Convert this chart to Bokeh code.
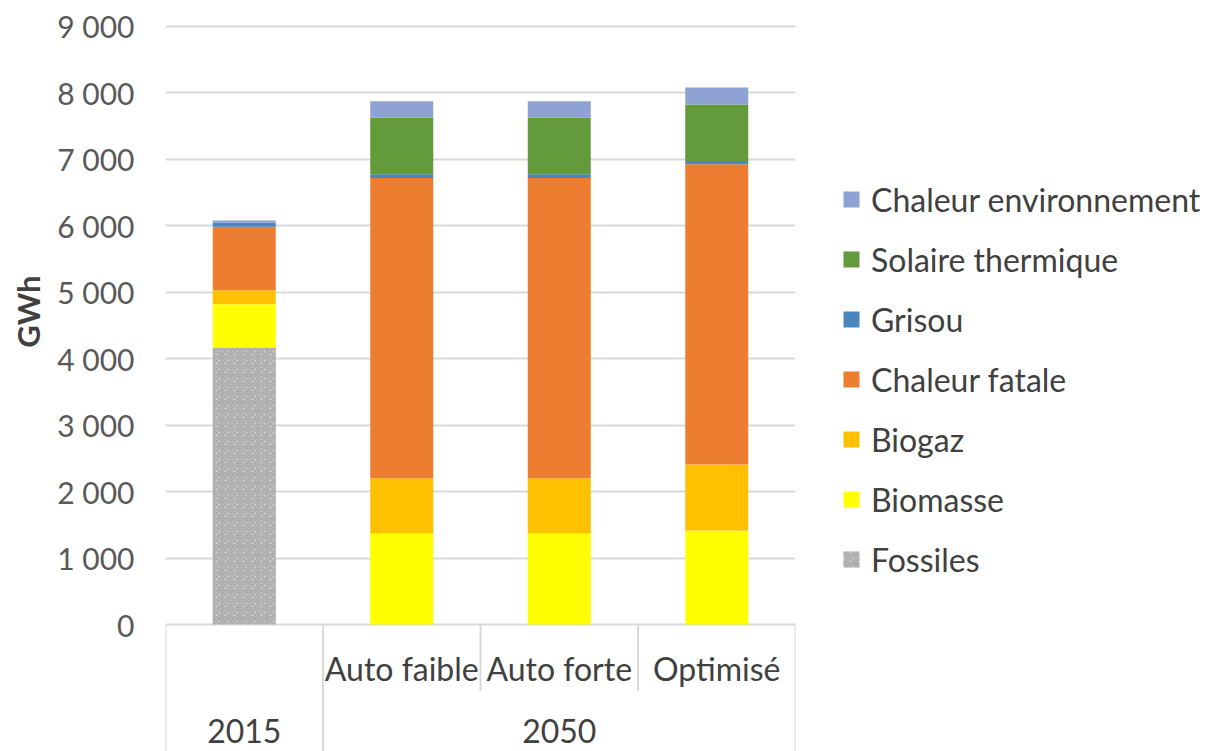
from bokeh.plotting import figure
from bokeh.models import (Range1d, FixedTicker, Legend, LegendItem, Title,
                          ColumnDataSource)
from bokeh.core.properties import value
from bokeh.embed import file_html
from bokeh.resources import INLINE

# ---------------- data ----------------
groups = ["2015", "2050"]
scenarios = ["", "Auto faible", "Auto forte", "Optimisé"]
scenario_group = ["2015", "2050", "2050", "2050"]
series = ["Fossiles", "Biomasse", "Biogaz", "Chaleur fatale", "Grisou",
          "Solaire thermique", "Chaleur environnement"]
fossiles = [4160, 0, 0, 0]
biomasse = [660, 1370, 1370, 1415]
biogaz = [210, 830, 830, 995]
chaleur_fatale = [955, 4520, 4520, 4515]
grisou = [60, 55, 55, 50]
solaire_thermique = [0, 850, 850, 850]
chaleur_environnement = [35, 250, 250, 255]
y_ticks = [0, 1000, 2000, 3000, 4000, 5000, 6000, 7000, 8000, 9000]
y_tick_labels = ["0", "1 000", "2 000", "3 000", "4 000", "5 000",
                 "6 000", "7 000", "8 000", "9 000"]
y_label = "GWh"

colors = ["#dadada", "#ffff00", "#ffc000", "#ed7d31", "#4a86be",
          "#629a3c", "#8fa2d4"]

FONT = "Lato"
FS = "32px"
TXT = "#404040"

xpos = [i + 0.5 for i in range(len(scenarios))]
src = ColumnDataSource(dict(
    x=xpos,
    Fossiles=fossiles, Biomasse=biomasse, Biogaz=biogaz,
    **{"Chaleur fatale": chaleur_fatale, "Grisou": grisou,
       "Solaire thermique": solaire_thermique,
       "Chaleur environnement": chaleur_environnement}))

YMIN = -1910
p = figure(frame_width=630, frame_height=731, output_backend="svg",
           toolbar_location=None, x_range=Range1d(0, 4),
           y_range=Range1d(YMIN, 9090),
           min_border_left=165, min_border_right=410,
           min_border_top=20, min_border_bottom=0)
p.outline_line_color = None
p.xaxis.visible = False
p.xgrid.visible = False
p.background_fill_color = "white"
p.border_fill_color = "white"

ax = p.yaxis[0]
ax.ticker = FixedTicker(ticks=y_ticks)
ax.major_label_overrides = {t: l for t, l in zip(y_ticks, y_tick_labels)}
ax.axis_line_color = None
ax.major_tick_line_color = None
ax.minor_tick_line_color = None
ax.major_tick_out = 0
ax.minor_tick_out = 0
ax.major_tick_in = 0
ax.minor_tick_in = 0
ax.major_label_standoff = 31
ax.major_label_text_font = FONT
ax.major_label_text_font_size = "30px"
ax.major_label_text_color = "#595959"
p.ygrid.grid_line_color = "#d9d9d9"
p.ygrid.grid_line_width = 2

# vertical axis title (left title panel, outside the tick labels)
p.add_layout(Title(text=y_label, align="right", vertical_align="middle",
                   offset=255, standoff=13, text_font=FONT,
                   text_font_size="31px", text_font_style="bold",
                   text_color=TXT), "left")

rs = p.vbar_stack(series, x="x", width=0.4, source=src, color=colors,
                  line_color=None)
rs[0].glyph.hatch_pattern = "criss_cross"
rs[0].glyph.hatch_color = "#b0b0b0"
rs[0].glyph.hatch_scale = 9
rs[0].glyph.hatch_weight = 3

# category table lines
p.segment(x0=[0, 1, 4, 2, 3], y0=[0, 0, 0, 0, 0],
          x1=[0, 1, 4, 2, 3], y1=[YMIN, YMIN, YMIN, -1000, -1000],
          line_color="#d9d9d9", line_width=2)

# scenario labels
p.text(x=xpos, y=[-662] * len(xpos), text=scenarios,
       text_font=value(FONT), text_font_size=FS, text_color=TXT,
       text_align="center", text_baseline="middle")
# group labels
gx = []
for g in groups:
    idx = [i for i, s in enumerate(scenario_group) if s == g]
    gx.append((min(idx) + max(idx) + 1) / 2)
p.text(x=gx, y=[-1595] * len(gx), text=groups,
       text_font=value(FONT), text_font_size=FS, text_color=TXT,
       text_align="center", text_baseline="middle")

items = [LegendItem(label=s, renderers=[r]) for s, r in zip(series, rs)][::-1]
leg = Legend(items=items, location=(46, 172), padding=0, margin=0,
             border_line_color=None, background_fill_alpha=0,
             glyph_width=20, glyph_height=20, label_height=40, spacing=20,
             label_standoff=10, label_text_font=FONT,
             label_text_font_size=FS, label_text_color=TXT)
p.add_layout(leg, "right")

open("out.html", "w").write(file_html(p, INLINE))
